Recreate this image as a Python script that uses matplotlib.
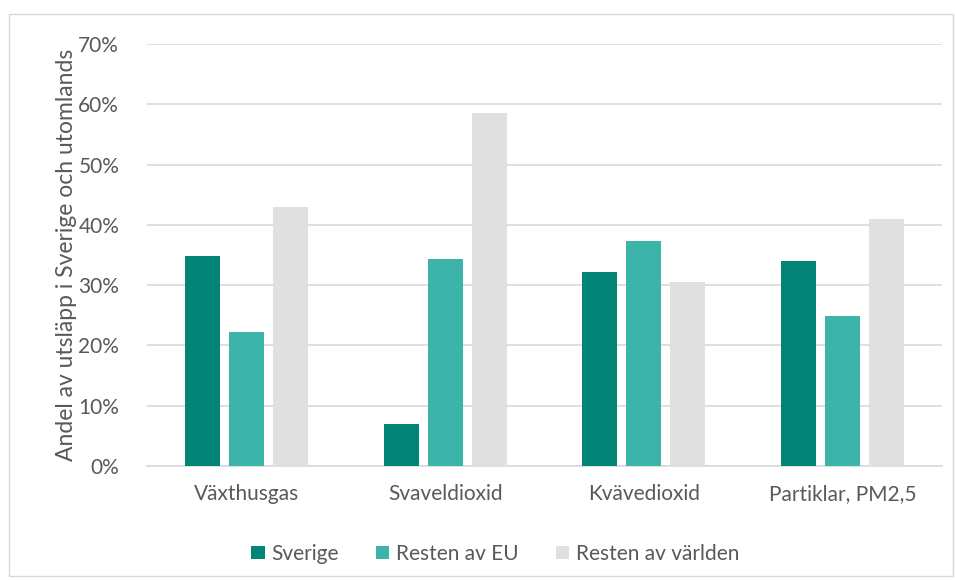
import numpy as np
import matplotlib.pyplot as plt
from matplotlib.patches import Rectangle

plt.rcParams['font.family'] = ['Lato', 'DejaVu Sans']

categories = ['Växthusgas', 'Svaveldioxid', 'Kvävedioxid', 'Partiklar, PM2,5']
sverige = [34.9, 7.0, 32.2, 34.0]
resten_eu = [22.2, 34.4, 37.3, 24.9]
resten_varld = [42.9, 58.6, 30.5, 41.0]
series_names = ['Sverige', 'Resten av EU', 'Resten av världen']
colors = ['#028576', '#3DB4AA', '#E0E0E0']
yticks = [0, 10, 20, 30, 40, 50, 60, 70]

text_col = '#595959'

fig = plt.figure(figsize=(9.55, 5.8), dpi=100, facecolor='w')
ax = fig.add_axes([147 / 955, 114 / 580, 795 / 955, 422 / 580])

x = np.arange(len(categories))
width = 0.176
step = 0.221
for i, (vals, name, c) in enumerate(zip([sverige, resten_eu, resten_varld], series_names, colors)):
    ax.bar(x + (i - 1) * step, vals, width, color=c, label=name, zorder=3)

ax.set_xlim(-0.5, len(categories) - 0.5)
ax.set_ylim(0, 70)
ax.set_yticks(yticks)
ax.set_yticklabels([f'{t}%' for t in yticks])
ax.set_xticks(x)
ax.set_xticklabels(categories)
ax.tick_params(axis='both', length=0, labelsize=15, colors=text_col)
ax.tick_params(axis='y', pad=20)
ax.tick_params(axis='x', pad=13)
ax.yaxis.grid(True, color='#D9D9D9', lw=1.2, zorder=0)
for spine in ('top', 'right', 'left'):
    ax.spines[spine].set_visible(False)
ax.spines['bottom'].set_color('#D9D9D9')
ax.spines['bottom'].set_linewidth(1.2)
ax.set_ylabel('Andel av utsläpp i Sverige och utomlands', fontsize=16.5, color=text_col, labelpad=1)

leg = ax.legend(loc='upper center', bbox_to_anchor=(348 / 795, -0.14), ncol=3, frameon=False,
                fontsize=15, labelcolor=text_col, handlelength=0.65, handleheight=0.65,
                handletextpad=0.3, columnspacing=1.8)

fig.patches.append(Rectangle((9 / 955, 4 / 580), 944 / 955, 562 / 580, transform=fig.transFigure,
                             fill=False, edgecolor='#D9D9D9', lw=1))

fig.savefig('out.png', dpi=100, facecolor='w')
